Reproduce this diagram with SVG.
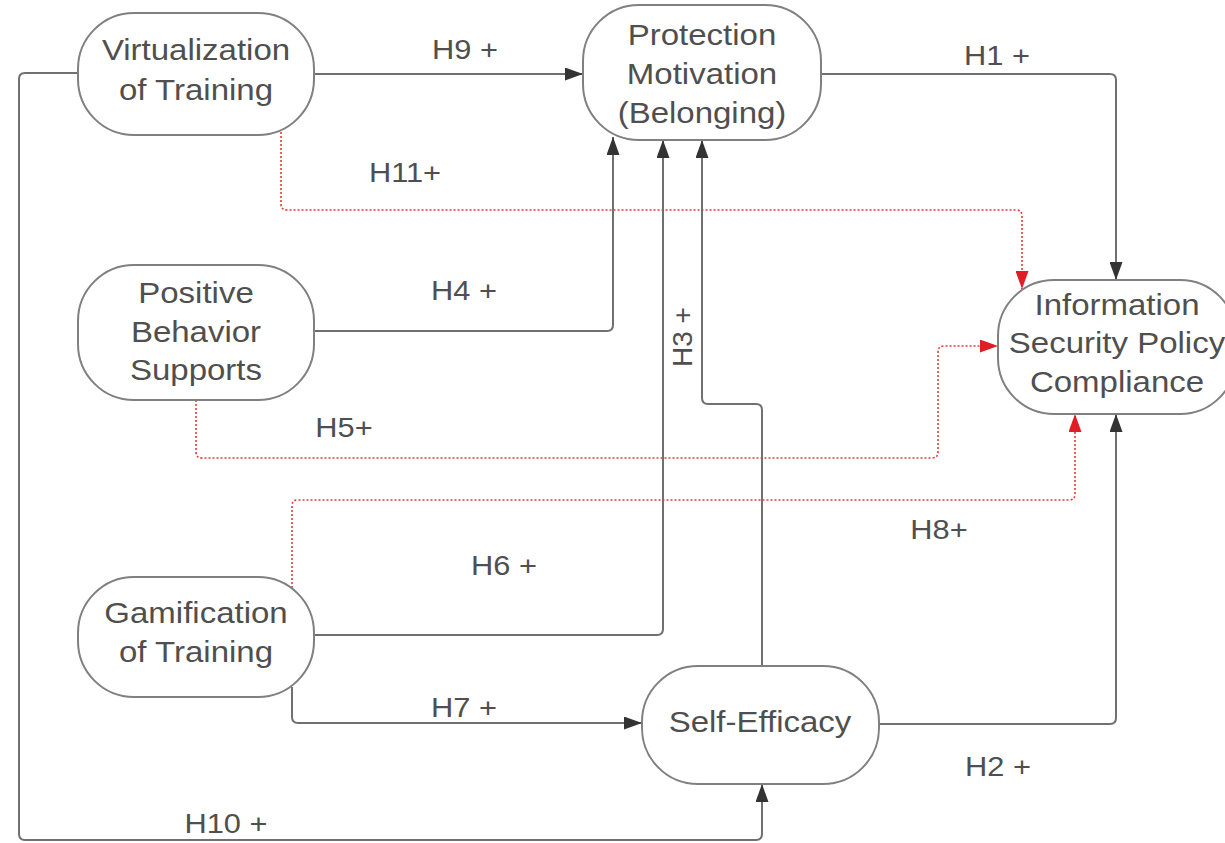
<svg xmlns="http://www.w3.org/2000/svg" width="1225" height="843" viewBox="0 0 1225 843">
<style>
.bg{fill:#ffffff}
.node rect{fill:#ffffff;stroke:#808080;stroke-width:2}
.nt{font-family:"Liberation Sans",Arial,sans-serif;font-size:30px;fill:#4f4f4f;text-anchor:middle}
.lbl{font-family:"Liberation Sans",Arial,sans-serif;font-size:28px;fill:#4f4f4f;text-anchor:middle}
.c{fill:none;stroke:#707070;stroke-width:2}
.r{fill:none;stroke:#e23b3b;stroke-width:1.6;stroke-dasharray:2 2}
</style>
<defs>
<marker id="ab" markerUnits="userSpaceOnUse" markerWidth="18" markerHeight="13" refX="18" refY="6.5" orient="auto">
<path d="M0,0 L18,6.5 L0,13 z" fill="#333333"/>
</marker>
<marker id="ar" markerUnits="userSpaceOnUse" markerWidth="18" markerHeight="13" refX="18" refY="6.5" orient="auto">
<path d="M0,0 L18,6.5 L0,13 z" fill="#e01e26"/>
</marker>
</defs>
<rect class="bg" x="0" y="0" width="1225" height="843"/>
<g id="connectors">
<path id="H10" class="c" d="M78,73 H25 Q19,73 19,79 V834 Q19,840 25,840 H756 Q762,840 762,834 V784" marker-end="url(#ab)"/>
<path id="H9" class="c" d="M314,74 H583" marker-end="url(#ab)"/>
<path id="H1" class="c" d="M821,74 H1110 Q1116,74 1116,80 V280" marker-end="url(#ab)"/>
<path id="H11" class="r" d="M281,132 V204 Q281,210 287,210 H1016 Q1022,210 1022,216 V289" marker-end="url(#ar)"/>
<path id="H4" class="c" d="M314,331 H607 Q613,331 613,325 V137" marker-end="url(#ab)"/>
<path id="H6" class="c" d="M314,635 H657 Q663,635 663,629 V140" marker-end="url(#ab)"/>
<path id="H3" class="c" d="M762,666 V410 Q762,404 756,404 H708 Q702,404 702,398 V140" marker-end="url(#ab)"/>
<path id="H5" class="r" d="M196,400 V452 Q196,458 202,458 H932 Q938,458 938,452 V352 Q938,346 944,346 H998" marker-end="url(#ar)"/>
<path id="H8" class="r" d="M292,588 V506 Q292,500 298,500 H1069 Q1075,500 1075,494 V414" marker-end="url(#ar)"/>
<path id="H7" class="c" d="M292,687 V717 Q292,723 298,723 H642" marker-end="url(#ab)"/>
<path id="H2" class="c" d="M879,724 H1110 Q1116,724 1116,718 V414" marker-end="url(#ab)"/>
<g id="labels">
<text class="lbl" transform="translate(465,59) scale(1.1,1)">H9 +</text>
<text class="lbl" transform="translate(997,65) scale(1.1,1)">H1 +</text>
<text class="lbl" transform="translate(405,182) scale(1.1,1)">H11+</text>
<text class="lbl" transform="translate(464,300) scale(1.1,1)">H4 +</text>
<text class="lbl" transform="translate(344,437) scale(1.1,1)">H5+</text>
<text class="lbl" transform="translate(939,539) scale(1.1,1)">H8+</text>
<text class="lbl" transform="translate(504,575) scale(1.1,1)">H6 +</text>
<text class="lbl" transform="translate(464,717) scale(1.1,1)">H7 +</text>
<text class="lbl" transform="translate(998,776) scale(1.1,1)">H2 +</text>
<text class="lbl" transform="translate(226,833) scale(1.1,1)">H10 +</text>
<text class="lbl" transform="translate(692,337) rotate(-90)">H3 +</text>
</g>
</g>
<g id="node-virtualization" class="node">
<rect x="78" y="13" width="236" height="122" rx="56" ry="56"/>
<text class="nt" transform="translate(196,0) scale(1.1,1)"><tspan x="0" y="60">Virtualization</tspan><tspan x="0" y="100">of Training</tspan></text>
</g>
<g id="node-protection" class="node">
<rect x="583" y="5" width="238" height="135" rx="56" ry="56"/>
<text class="nt" transform="translate(702,0) scale(1.1,1)"><tspan x="0" y="45">Protection</tspan><tspan x="0" y="84">Motivation</tspan><tspan x="0" y="123">(Belonging)</tspan></text>
</g>
<g id="node-compliance" class="node">
<rect x="998" y="280" width="238" height="134" rx="56" ry="56"/>
<text class="nt" transform="translate(1117,0) scale(1.1,1)"><tspan x="0" y="315">Information</tspan><tspan x="0" y="353">Security Policy</tspan><tspan x="0" y="392">Compliance</tspan></text>
</g>
<g id="node-positive" class="node">
<rect x="78" y="265" width="236" height="135" rx="56" ry="56"/>
<text class="nt" transform="translate(196,0) scale(1.1,1)"><tspan x="0" y="303">Positive</tspan><tspan x="0" y="342">Behavior</tspan><tspan x="0" y="380">Supports</tspan></text>
</g>
<g id="node-gamification" class="node">
<rect x="78" y="577" width="236" height="120" rx="56" ry="56"/>
<text class="nt" transform="translate(196,0) scale(1.1,1)"><tspan x="0" y="623">Gamification</tspan><tspan x="0" y="662">of Training</tspan></text>
</g>
<g id="node-selfefficacy" class="node">
<rect x="642" y="666" width="237" height="118" rx="56" ry="56"/>
<text class="nt" transform="translate(760,0) scale(1.1,1)"><tspan x="0" y="732">Self-Efficacy</tspan></text>
</g>
</svg>
